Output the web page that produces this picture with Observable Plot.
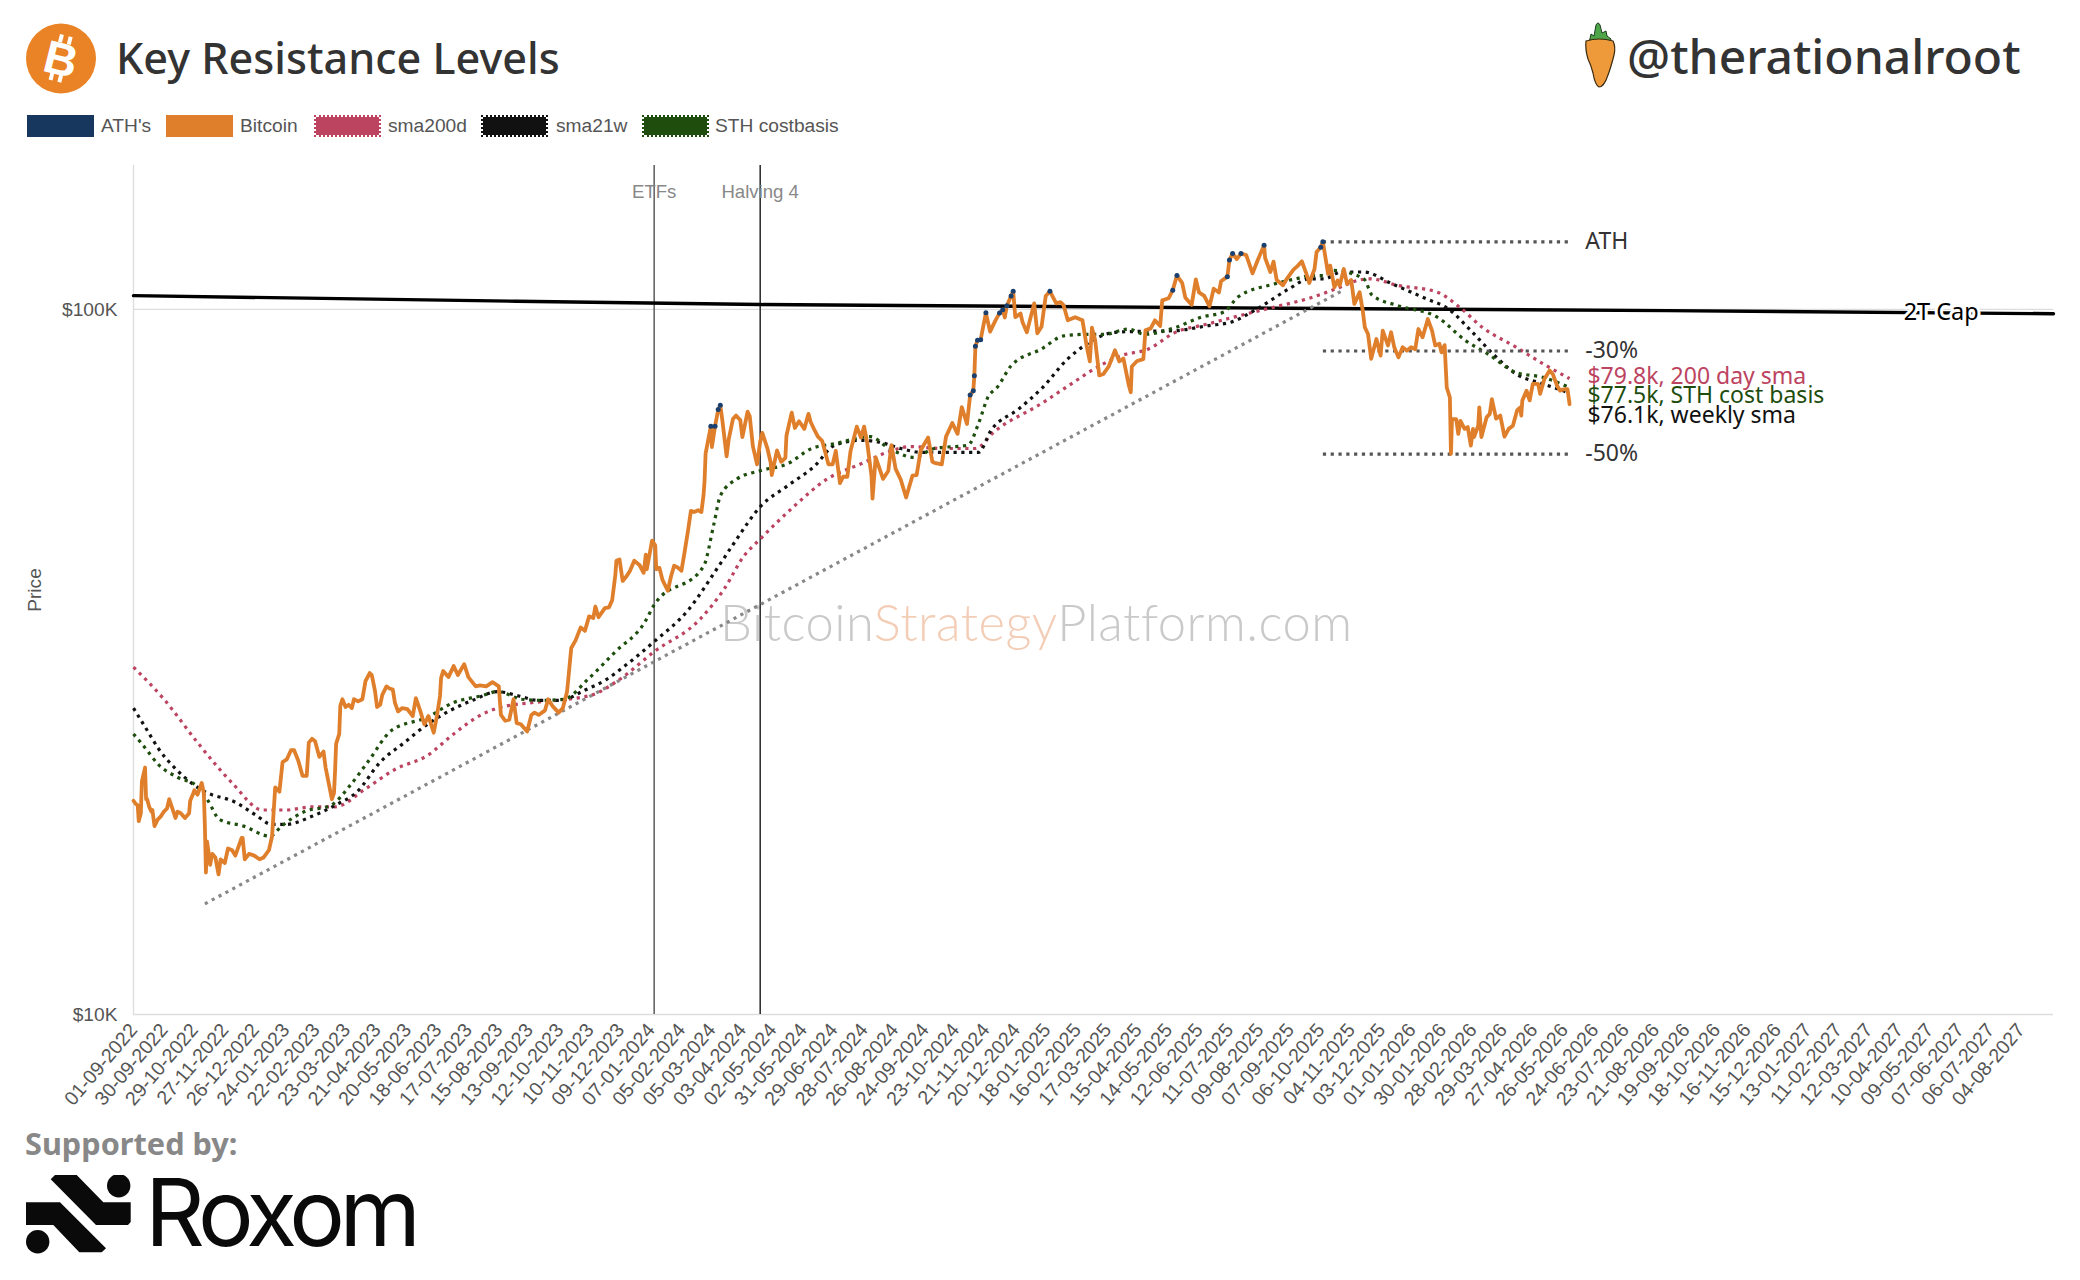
<!DOCTYPE html>
<html><head><meta charset="utf-8">
<script src="https://cdn.jsdelivr.net/npm/d3@7"></script>
<script src="https://cdn.jsdelivr.net/npm/@observablehq/plot@0.6"></script>
<style>
html,body{margin:0;padding:0;background:#fff}
#page{position:relative;width:2080px;height:1280px;overflow:hidden;background:#fff}
#header{position:relative;height:150px}
#chart{position:relative;height:975px}
#chart svg{position:absolute;left:0;top:0;display:block}
#footer{position:relative;height:155px}
.abs{position:absolute;white-space:nowrap}
.title{left:116px;top:26px;font:500 43.2px "Noto Sans",sans-serif;color:#333;line-height:64px}
.handle{left:1627px;top:22px;font:500 48px "Noto Sans",sans-serif;color:#333;line-height:68px}
.legtxt{top:114px;font:19.2px "Liberation Sans",sans-serif;color:#555;line-height:24px}
.sw{top:115px;width:67px;height:22px;box-sizing:border-box}
.dotsw{border-style:dotted;border-width:2px;background-clip:padding-box}
#wm{left:720px;top:442px;font:300 50.700px "Lato","Open Sans",sans-serif;letter-spacing:.5px;color:#c9c9c9;line-height:60px}
#wm span{color:#f3cdb6}
.sup{left:25px;top:-7px;font:700 30.700px "Noto Sans",sans-serif;color:#888;line-height:50px}
.rox{left:145px;top:32px;font:400 93px "Inter",sans-serif;letter-spacing:-5.5px;color:#0a0a0a;line-height:110px}
</style></head><body>
<div id="page">
 <div id="header">
  <svg class="abs" style="left:25px;top:23px" width="72" height="72" viewBox="0 0 72 72">
   <circle cx="36" cy="35.500" r="35" fill="#ea8325"/>
   <g transform="rotate(14 36 36)" fill="#fff">
    <text x="36" y="52" text-anchor="middle" font-family="Liberation Sans" font-weight="700" font-size="46">B</text>
    <rect x="29" y="12" width="4" height="8"/><rect x="38" y="12" width="4" height="8"/>
    <rect x="29" y="51" width="4" height="8"/><rect x="38" y="51" width="4" height="8"/>
   </g>
  </svg>
  <div class="abs title">Key Resistance Levels</div>
  <svg class="abs" style="left:1583px;top:21px" width="34" height="68" viewBox="0 0 34 68">
   <path d="M6 22 L8 13 L11 15 L13 4 Q15 0 17 4 L19 12 L23 10 L24 15 L28 18 L27 23 Z" fill="#4fa64a" stroke="#1c3d1c" stroke-width="1"/>
   <path d="M3 20 Q16 16 30 20 Q33 26 31 34 Q28 46 25 54 Q21 66 16 66 Q12 64 10 52 Q8 44 5 38 Q2 28 3 20 Z" fill="#ef9a3a" stroke="#3a2a10" stroke-width="1.2"/>
  </svg>
  <div class="abs handle">@therationalroot</div>
  <div id="legend"></div>
 </div>
 <div id="chart">
  <div id="wm" class="abs">Bitcoin<span>Strategy</span>Platform.com</div>
 </div>
 <div id="footer">
  <div class="abs sup">Supported by:</div>
  <svg class="abs" style="left:26px;top:50px" width="106" height="82" viewBox="0 0 106 82">
   <path d="M24.700 4.300 L29 0 L50.700 0 L77.300 27.300 L104.700 27.300 L104.700 47 L102 50 L70 50 Z" fill="#0a0a0a"/>
   <path d="M0 27.300 L34 27.300 L80 73.300 L75.700 77.300 L53.300 77.300 L27.300 50 L0 50 Z" fill="#0a0a0a"/>
   <circle cx="92.700" cy="10.700" r="11.700" fill="#0a0a0a"/>
   <circle cx="11.700" cy="66.700" r="11.700" fill="#0a0a0a"/>
  </svg>
  <div class="abs rox">Roxom</div>
 </div>
</div>
<script>
const xTickLabels = ["01-09-2022","30-09-2022","29-10-2022","27-11-2022","26-12-2022","24-01-2023","22-02-2023","23-03-2023","21-04-2023","20-05-2023","18-06-2023","17-07-2023","15-08-2023","13-09-2023","12-10-2023","10-11-2023","09-12-2023","07-01-2024","05-02-2024","05-03-2024","03-04-2024","02-05-2024","31-05-2024","29-06-2024","28-07-2024","26-08-2024","24-09-2024","23-10-2024","21-11-2024","20-12-2024","18-01-2025","16-02-2025","17-03-2025","15-04-2025","14-05-2025","12-06-2025","11-07-2025","09-08-2025","07-09-2025","06-10-2025","04-11-2025","03-12-2025","01-01-2026","30-01-2026","28-02-2026","29-03-2026","27-04-2026","26-05-2026","24-06-2026","23-07-2026","21-08-2026","19-09-2026","18-10-2026","16-11-2026","15-12-2026","13-01-2027","11-02-2027","12-03-2027","10-04-2027","09-05-2027","07-06-2027","06-07-2027","04-08-2027"];

// Bitcoin close, $K
const bitcoin = [["2022-09-01",20.1],["2022-09-03",19.9],["2022-09-05",19.8],["2022-09-06",18.8],["2022-09-08",19.3],["2022-09-09",21.4],["2022-09-12",22.4],["2022-09-13",20.2],["2022-09-14",20.2],["2022-09-16",19.7],["2022-09-18",19.4],["2022-09-19",19.5],["2022-09-21",18.5],["2022-09-24",18.9],["2022-09-27",19.1],["2022-09-30",19.4],["2022-10-03",19.6],["2022-10-05",20.2],["2022-10-09",19.4],["2022-10-11",19.0],["2022-10-13",19.4],["2022-10-16",19.3],["2022-10-20",19.0],["2022-10-24",19.3],["2022-10-25",20.1],["2022-10-28",20.6],["2022-10-29",20.8],["2022-11-01",20.5],["2022-11-05",21.3],["2022-11-07",20.6],["2022-11-08",18.5],["2022-11-09",15.9],["2022-11-10",17.6],["2022-11-12",16.8],["2022-11-13",16.3],["2022-11-15",16.9],["2022-11-18",16.7],["2022-11-21",15.8],["2022-11-23",16.6],["2022-11-27",16.4],["2022-11-30",17.2],["2022-12-04",17.1],["2022-12-07",16.8],["2022-12-13",17.8],["2022-12-14",17.8],["2022-12-16",16.6],["2022-12-20",16.9],["2022-12-25",16.8],["2022-12-30",16.6],["2023-01-03",16.7],["2023-01-08",17.1],["2023-01-11",17.9],["2023-01-13",19.9],["2023-01-14",21.0],["2023-01-18",20.7],["2023-01-21",22.8],["2023-01-25",23.0],["2023-01-29",23.7],["2023-02-01",23.7],["2023-02-05",22.9],["2023-02-09",21.8],["2023-02-13",21.8],["2023-02-15",24.3],["2023-02-18",24.6],["2023-02-21",24.4],["2023-02-25",23.2],["2023-03-01",23.6],["2023-03-03",22.4],["2023-03-09",20.2],["2023-03-11",20.6],["2023-03-12",22.1],["2023-03-13",24.2],["2023-03-16",25.0],["2023-03-17",27.4],["2023-03-19",28.0],["2023-03-22",27.3],["2023-03-25",27.5],["2023-03-28",27.2],["2023-03-30",28.0],["2023-04-03",27.8],["2023-04-07",28.0],["2023-04-10",29.7],["2023-04-14",30.5],["2023-04-16",30.3],["2023-04-19",28.8],["2023-04-21",27.3],["2023-04-24",27.5],["2023-04-26",28.4],["2023-04-30",29.2],["2023-05-03",29.0],["2023-05-06",28.9],["2023-05-08",27.7],["2023-05-11",26.9],["2023-05-15",27.2],["2023-05-20",27.1],["2023-05-25",26.5],["2023-05-28",28.1],["2023-06-01",27.0],["2023-06-05",25.8],["2023-06-09",26.5],["2023-06-14",25.1],["2023-06-17",26.5],["2023-06-20",28.3],["2023-06-21",30.0],["2023-06-23",30.7],["2023-06-28",30.1],["2023-07-03",31.2],["2023-07-07",30.3],["2023-07-13",31.4],["2023-07-17",30.1],["2023-07-24",29.2],["2023-07-28",29.3],["2023-08-03",29.2],["2023-08-09",29.6],["2023-08-15",29.2],["2023-08-17",26.6],["2023-08-21",26.1],["2023-08-25",26.2],["2023-08-29",28.0],["2023-09-01",25.9],["2023-09-05",25.8],["2023-09-11",25.2],["2023-09-15",26.6],["2023-09-18",26.8],["2023-09-22",26.6],["2023-09-28",27.0],["2023-10-01",28.0],["2023-10-05",27.4],["2023-10-11",26.8],["2023-10-15",27.2],["2023-10-19",28.7],["2023-10-20",29.7],["2023-10-23",33.1],["2023-10-27",33.9],["2023-11-01",35.4],["2023-11-05",35.0],["2023-11-09",36.7],["2023-11-13",36.5],["2023-11-15",37.9],["2023-11-18",36.6],["2023-11-24",37.7],["2023-11-28",37.8],["2023-12-01",38.7],["2023-12-04",42.0],["2023-12-05",44.0],["2023-12-08",44.2],["2023-12-11",41.2],["2023-12-15",41.9],["2023-12-18",42.6],["2023-12-22",44.0],["2023-12-27",43.4],["2023-12-31",42.3],["2024-01-02",44.9],["2024-01-03",42.8],["2024-01-08",47.0],["2024-01-11",46.3],["2024-01-12",42.8],["2024-01-15",43.0],["2024-01-18",41.3],["2024-01-23",39.9],["2024-01-26",41.8],["2024-01-29",43.3],["2024-02-01",43.1],["2024-02-05",42.6],["2024-02-08",45.3],["2024-02-11",48.3],["2024-02-14",51.8],["2024-02-17",51.6],["2024-02-21",51.9],["2024-02-24",51.6],["2024-02-26",54.5],["2024-02-27",57.1],["2024-02-28",62.5],["2024-03-04",68.3],["2024-03-05",63.8],["2024-03-08",68.3],["2024-03-11",72.1],["2024-03-13",73.1],["2024-03-15",69.5],["2024-03-19",61.9],["2024-03-21",65.4],["2024-03-25",69.9],["2024-03-28",70.7],["2024-04-01",69.7],["2024-04-03",65.9],["2024-04-08",71.6],["2024-04-10",70.6],["2024-04-13",64.0],["2024-04-17",60.3],["2024-04-20",64.9],["2024-04-22",66.8],["2024-04-27",63.4],["2024-04-30",60.6],["2024-05-01",58.2],["2024-05-06",63.1],["2024-05-10",60.8],["2024-05-14",61.6],["2024-05-15",66.2],["2024-05-20",71.4],["2024-05-23",67.9],["2024-05-27",69.4],["2024-06-01",67.7],["2024-06-05",71.1],["2024-06-07",69.3],["2024-06-11",67.3],["2024-06-14",66.0],["2024-06-18",65.1],["2024-06-24",60.3],["2024-06-28",60.3],["2024-07-01",63.0],["2024-07-05",56.7],["2024-07-08",57.9],["2024-07-12",57.9],["2024-07-15",62.9],["2024-07-21",68.2],["2024-07-25",65.8],["2024-07-28",68.2],["2024-07-31",64.6],["2024-08-04",58.1],["2024-08-05",53.9],["2024-08-08",61.7],["2024-08-15",57.5],["2024-08-20",59.0],["2024-08-23",64.2],["2024-08-27",59.4],["2024-09-01",57.3],["2024-09-06",54.1],["2024-09-12",58.1],["2024-09-16",58.2],["2024-09-20",63.2],["2024-09-27",65.8],["2024-10-01",60.8],["2024-10-03",60.6],["2024-10-10",60.3],["2024-10-14",66.0],["2024-10-20",69.0],["2024-10-25",66.6],["2024-10-29",72.7],["2024-11-03",68.8],["2024-11-06",75.6],["2024-11-09",76.7],["2024-11-10",80.5],["2024-11-11",88.7],["2024-11-13",90.4],["2024-11-16",90.6],["2024-11-21",98.9],["2024-11-25",93.0],["2024-11-30",96.4],["2024-12-04",98.8],["2024-12-07",99.9],["2024-12-09",97.4],["2024-12-11",101.2],["2024-12-15",104.5],["2024-12-17",106.1],["2024-12-19",97.5],["2024-12-24",98.7],["2024-12-26",95.8],["2024-12-30",92.8],["2025-01-03",98.0],["2025-01-06",102.0],["2025-01-09",92.5],["2025-01-13",94.5],["2025-01-17",104.5],["2025-01-21",106.1],["2025-01-27",102.0],["2025-01-31",102.4],["2025-02-03",101.4],["2025-02-07",96.5],["2025-02-14",97.5],["2025-02-21",96.5],["2025-02-25",88.7],["2025-02-28",84.4],["2025-03-02",94.2],["2025-03-05",90.6],["2025-03-09",80.6],["2025-03-13",81.0],["2025-03-18",83.0],["2025-03-24",87.5],["2025-03-28",84.4],["2025-04-01",85.2],["2025-04-06",78.2],["2025-04-08",76.3],["2025-04-09",83.0],["2025-04-14",84.5],["2025-04-20",85.0],["2025-04-22",93.4],["2025-04-27",94.0],["2025-05-01",96.5],["2025-05-06",94.7],["2025-05-08",103.0],["2025-05-14",103.7],["2025-05-18",106.5],["2025-05-22",111.7],["2025-05-27",109.0],["2025-05-30",103.9],["2025-06-05",101.5],["2025-06-09",110.3],["2025-06-12",105.7],["2025-06-17",104.5],["2025-06-22",101.0],["2025-06-26",107.0],["2025-07-01",105.7],["2025-07-03",109.6],["2025-07-09",111.3],["2025-07-11",117.5],["2025-07-14",120.0],["2025-07-18",117.9],["2025-07-22",120.0],["2025-07-27",119.4],["2025-08-02",112.5],["2025-08-07",117.5],["2025-08-13",123.3],["2025-08-14",118.3],["2025-08-19",113.0],["2025-08-22",116.9],["2025-08-25",110.1],["2025-08-31",108.2],["2025-09-04",110.7],["2025-09-10",113.9],["2025-09-14",115.3],["2025-09-18",117.0],["2025-09-22",112.7],["2025-09-25",109.0],["2025-09-30",114.0],["2025-10-02",120.6],["2025-10-06",122.5],["2025-10-08",124.7],["2025-10-13",112.3],["2025-10-15",115.4],["2025-10-19",107.5],["2025-10-22",109.9],["2025-10-24",108.1],["2025-10-28",114.1],["2025-10-31",108.7],["2025-11-04",110.1],["2025-11-07",101.8],["2025-11-12",105.8],["2025-11-15",99.6],["2025-11-17",94.3],["2025-11-20",92.3],["2025-11-23",85.1],["2025-11-28",90.8],["2025-12-02",86.0],["2025-12-04",93.3],["2025-12-09",88.9],["2025-12-12",92.8],["2025-12-15",88.4],["2025-12-19",85.5],["2025-12-23",88.4],["2025-12-27",87.4],["2025-12-31",88.4],["2026-01-04",87.8],["2026-01-07",93.8],["2026-01-11",91.3],["2026-01-16",96.9],["2026-01-20",93.3],["2026-01-23",88.9],["2026-01-27",89.4],["2026-01-29",86.9],["2026-02-01",89.0],["2026-02-03",77.5],["2026-02-06",75.0],["2026-02-07",62.4],["2026-02-08",69.9],["2026-02-12",69.9],["2026-02-14",66.6],["2026-02-16",69.5],["2026-02-20",67.7],["2026-02-23",68.1],["2026-02-26",64.1],["2026-02-28",67.7],["2026-03-01",65.9],["2026-03-05",68.4],["2026-03-06",72.6],["2026-03-08",65.9],["2026-03-13",70.3],["2026-03-16",71.1],["2026-03-18",74.6],["2026-03-22",70.0],["2026-03-26",70.7],["2026-03-30",66.0],["2026-04-03",67.7],["2026-04-07",68.4],["2026-04-11",71.9],["2026-04-14",72.6],["2026-04-15",70.7],["2026-04-16",74.3],["2026-04-20",76.7],["2026-04-23",74.3],["2026-04-26",78.4],["2026-05-01",78.4],["2026-05-03",75.9],["2026-05-07",79.7],["2026-05-12",81.9],["2026-05-15",81.0],["2026-05-19",78.0],["2026-05-22",76.7],["2026-05-25",77.0],["2026-05-29",77.1],["2026-05-31",73.4]];

// New all-time-high closes
const athDates = ["2024-03-04","2024-03-08","2024-03-11","2024-03-13","2024-11-06","2024-11-09","2024-11-10","2024-11-11","2024-11-13","2024-11-16","2024-11-21","2024-12-04","2024-12-07","2024-12-11","2024-12-15","2024-12-17","2025-01-21","2025-05-18","2025-05-22","2025-07-09","2025-07-11","2025-07-14","2025-07-22","2025-08-13","2025-10-06","2025-10-08"];

const sma200dDays = [0,29,62,94,123,145,170,192,221,250,280,305,331,347,381,403,437,462,496,540,563,581,598,627,661,693,718,740,770,802,820,864,896,918,941,967,992,1024,1055,1087,1119,1150,1166,1178,1204,1242,1263,1285,1317,1343,1368];
const sma200dPrice = [31.1,28.0,24.2,21.3,19.5,19.5,19.7,19.7,20.9,22.3,23.3,25.0,26.6,27.2,27.7,27.9,28.4,29.8,32.7,36.4,40.2,44.6,47.4,52.2,57.5,60.4,62.7,63.9,63.5,63.5,67.1,73.4,78.9,82.8,86.0,87.9,92.7,95.4,98.1,100.8,103.6,107.6,109.9,110.5,108.2,105.8,100.8,94.3,88.4,83.7,79.8];

const sma21wDays = [0,13,24,39,57,68,97,116,132,145,170,192,213,235,258,280,302,323,347,367,385,407,429,451,469,496,528,555,572,598,623,649,668,693,709,731,750,779,805,817,843,865,890,906,935,960,992,1023,1046,1071,1101,1120,1134,1151,1172,1199,1231,1252,1274,1295,1317,1343,1368];
const sma21wPrice = [27.2,25.3,23.8,22.4,21.2,20.7,20.0,19.2,18.6,18.6,19.1,19.8,20.7,22.8,24.3,25.8,27.0,27.9,28.7,28.3,27.9,27.9,28.8,29.9,31.3,33.8,37.4,42.7,46.6,52.7,56.2,60.0,64.2,65.2,64.9,63.5,62.7,62.7,62.7,67.4,72.2,77.2,85.1,88.9,92.8,93.1,93.3,94.8,96.0,100.3,107.0,110.5,110.5,113.0,113.0,108.7,103.6,100.3,93.3,86.5,81.0,78.4,76.1];

const sthDays = [0,10,24,42,60,71,82,105,130,141,163,188,206,224,246,280,305,331,347,370,389,410,433,459,487,496,543,553,559,575,598,623,646,668,702,718,743,763,795,805,814,823,836,865,886,909,925,948,963,992,1017,1039,1052,1087,1107,1123,1134,1143,1172,1180,1204,1242,1269,1290,1317,1343,1368];
const sthPrice = [25.0,24.0,22.6,21.7,21.1,20.1,18.9,18.5,17.9,18.5,19.4,19.8,21.1,22.9,25.3,26.4,27.7,28.3,28.7,28.0,27.9,28.0,29.9,32.7,36.0,38.1,43.2,49.7,54.4,57.5,59.1,60.4,63.5,64.5,66.0,63.8,61.7,63.5,64.2,68.9,75.1,77.6,83.2,87.9,91.7,92.2,92.2,93.8,92.2,94.2,97.5,99.2,104.1,108.7,110.5,111.7,111.7,113.6,110.5,104.7,101.3,97.5,90.3,86.5,81.4,80.1,77.5];

const trendDates = ["2022-11-08","2025-10-25"];
const trendPrice = [14.35,106];
const capDates = ["2022-09-01","2023-09-01","2024-04-20","2024-09-01","2025-09-01","2026-09-01","2027-09-04"];
const capPrice = [104.6,102.7,101.6,101.3,100.4,99.6,98.6];
const eventNames = ["ETFs","Halving 4"];
const eventDates = ["2024-01-10","2024-04-20"];
const eventColors = ["#666","#333"];
const levelNames = ["ATH","-30%","-50%"];
const levelPrice = [124.7,87.3,62.35];
const levelDates = ["2025-10-08","2026-06-02"];
const smaLabels = ["$79.8k, 200 day sma","$77.5k, STH cost basis","$76.1k, weekly sma"];
const smaLabelPrice = [80.4,75.4,70.6];
const smaLabelColors = ["#bc4460","#1e4d0e","#111"];
const legendNames = ["ATH's","Bitcoin","sma200d","sma21w","STH costbasis"];
const legendColors = ["#17375e","#e07f2b","#bc4460","#111111","#1e4d0e"];
const legendDotted = [false,false,true,true,true];
const xMin = new Date("2022-09-01"), xMax = new Date("2027-09-04");

const legendX = [27,166,314,481,642], legendTx = [101,240,388,556,715];
const leg = document.getElementById("legend");
legendNames.forEach((n,i)=>{
  const s=document.createElement("div");s.className="abs sw"+(legendDotted[i]?" dotsw":"");
  s.style.left=legendX[i]+"px";s.style.background=legendColors[i];s.style.borderColor=legendColors[i];
  if(legendDotted[i]) s.style.backgroundClip="padding-box";
  leg.appendChild(s);
  const t=document.createElement("div");t.className="abs legtxt";t.style.left=legendTx[i]+"px";t.textContent=n;leg.appendChild(t);
});

const D = s=>new Date(s);
const parseTick = s=>{const [d,m,y]=s.split("-");return new Date(`${y}-${m}-${d}`)};
const fromDays = (days,vals)=>days.map((d,i)=>({x:d3.utcDay.offset(xMin,d),y:vals[i]}));
const dotStyle = {strokeWidth:3.2,strokeDasharray:"3.2,4.6",strokeLinecap:"butt",strokeLinejoin:"miter"};
const dotted = {...dotStyle,curve:"monotone-x"};
const UB = "Noto Sans";

const chart = Plot.plot({
  width:2080,height:975,marginLeft:133,marginRight:27,marginTop:15,marginBottom:111,
  style:{background:"transparent",fontFamily:"Liberation Sans",overflow:"visible",color:"#555"},
  x:{type:"utc",domain:[xMin,xMax]},
  y:{type:"log",domain:[10,160]},
  marks:[
    Plot.ruleY([100],{stroke:"#ddd",strokeWidth:1.3}),
    Plot.ruleY([10],{stroke:"#ddd",strokeWidth:1.3}),
    Plot.ruleX([xMin],{stroke:"#ddd",strokeWidth:1.3}),
    Plot.axisY({ticks:[10,100],tickFormat:d=>"$"+d+"K",tickSize:0,tickPadding:16,fontSize:19.2,fill:"#555",label:"Price",labelAnchor:"center",labelArrow:"none",labelOffset:106}),
    Plot.axisX({ticks:xTickLabels.map(parseTick),tickFormat:d3.utcFormat("%d-%m-%Y"),tickSize:0,tickPadding:12,tickRotate:-49.5,fontSize:19.6,fill:"#555",label:null}),
    Plot.ruleX(eventDates.map((d,i)=>({x:D(d),c:eventColors[i]})),{x:"x",stroke:"c",strokeWidth:1.6}),
    Plot.text(eventNames.map((n,i)=>({n,x:D(eventDates[i])})),{x:"x",y:()=>146.8,text:"n",fontSize:18.6,fill:"#888",fontFamily:"Liberation Sans"}),
    Plot.line(capDates.map((d,i)=>({x:D(d),y:capPrice[i]})),{x:"x",y:"y",stroke:"#000",strokeWidth:3.4}),
    Plot.line(trendDates.map((d,i)=>({x:D(d),y:trendPrice[i]})),{x:"x",y:"y",stroke:"#888",...dotStyle}),
    Plot.line(fromDays(sma200dDays,sma200dPrice),{x:"x",y:"y",stroke:"#bc4460",...dotted}),
    Plot.line(fromDays(sma21wDays,sma21wPrice),{x:"x",y:"y",stroke:"#111",...dotted}),
    Plot.line(fromDays(sthDays,sthPrice),{x:"x",y:"y",stroke:"#1e4d0e",...dotted}),
    ...levelPrice.map(p=>Plot.line(levelDates.map(d=>({x:D(d),y:p})),{x:"x",y:"y",stroke:"#555",...dotStyle})),
    Plot.line(bitcoin.map(([d,p])=>({x:D(d),y:p})),{x:"x",y:"y",stroke:"#e07f2b",strokeWidth:3.8,strokeLinejoin:"round"}),
    Plot.dot(athDates.map(d=>({x:D(d),y:new Map(bitcoin).get(d)})),{x:"x",y:"y",r:2.5,fill:"#1a4070"}),
    Plot.text(levelNames.map((n,i)=>({n,y:levelPrice[i]})),{x:()=>D("2026-06-15"),y:"y",text:"n",textAnchor:"start",fontFamily:UB,fontSize:23,fill:"#333"}),
    Plot.text(smaLabels.map((n,i)=>({n,y:smaLabelPrice[i],c:smaLabelColors[i]})),{x:()=>D("2026-06-17"),y:"y",text:"n",textAnchor:"start",fontFamily:UB,fontSize:23,fill:"c"}),
    Plot.text([{n:"2T Cap",x:D("2027-05-20"),y:98.9}],{x:"x",y:"y",text:"n",fontFamily:UB,fontSize:23.5,fill:"#000",stroke:"#fff",strokeWidth:6,paintOrder:"stroke"})
  ]
});
document.getElementById("chart").appendChild(chart);
</script>
</body></html>
